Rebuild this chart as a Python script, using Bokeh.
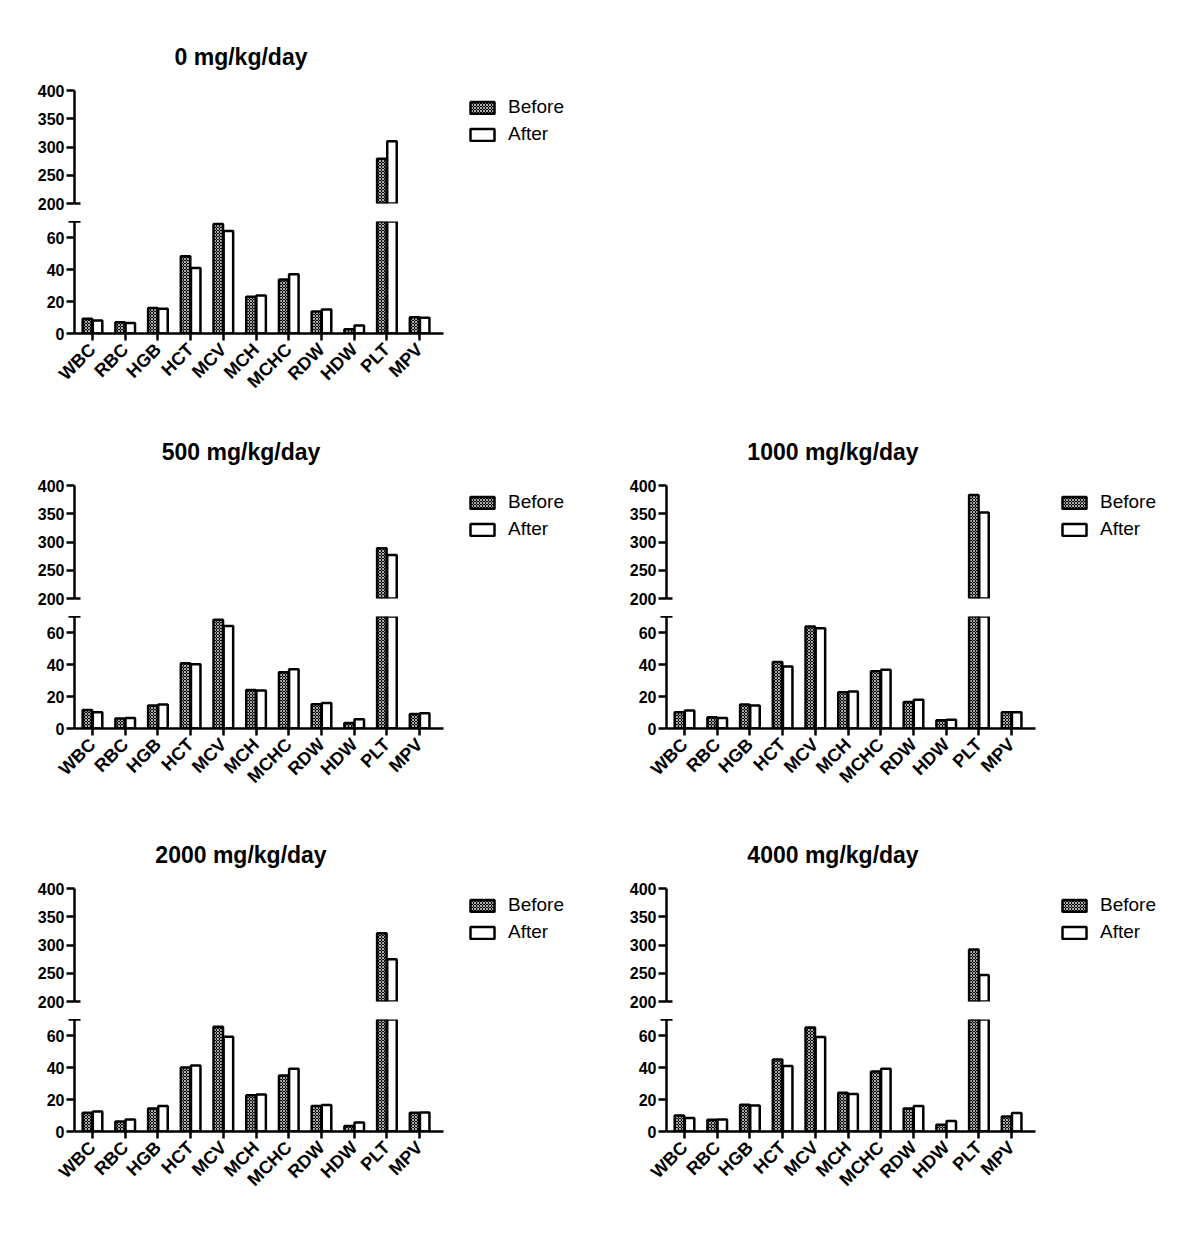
import math
from bokeh.plotting import figure
from bokeh.models import Range1d, FixedTicker, Legend
from bokeh.layouts import column, row
from bokeh.embed import file_html
from bokeh.resources import INLINE

categories = ["WBC", "RBC", "HGB", "HCT", "MCV", "MCH", "MCHC", "RDW", "HDW", "PLT", "MPV"]
doses = ["0 mg/kg/day", "500 mg/kg/day", "1000 mg/kg/day", "2000 mg/kg/day", "4000 mg/kg/day"]

before_0 = [9.2, 7.0, 16.0, 48.3, 68.5, 23.0, 33.7, 13.7, 2.7, 279, 10.2]
after_0 = [8.2, 6.5, 15.5, 41.0, 64.0, 23.8, 37.0, 15.0, 5.0, 310, 9.8]
before_500 = [11.5, 6.2, 14.4, 40.8, 68.0, 24.0, 35.2, 15.2, 3.5, 289, 9.0]
after_500 = [10.2, 6.5, 15.0, 40.2, 64.0, 23.7, 37.0, 15.9, 5.8, 277, 9.6]
before_1000 = [10.2, 7.0, 15.0, 41.5, 63.7, 22.7, 35.8, 16.5, 5.2, 383, 10.2]
after_1000 = [11.2, 6.5, 14.4, 38.8, 62.7, 23.1, 36.7, 18.0, 5.4, 352, 10.2]
before_2000 = [11.7, 6.2, 14.4, 40.0, 65.4, 22.7, 35.0, 15.9, 3.5, 321, 11.7]
after_2000 = [12.5, 7.5, 16.0, 41.2, 59.2, 23.1, 39.2, 16.5, 5.6, 275, 11.9]
before_4000 = [10.0, 7.3, 16.7, 45.0, 65.0, 24.2, 37.5, 14.4, 4.2, 292, 9.4]
after_4000 = [8.5, 7.5, 16.2, 41.0, 59.0, 23.5, 39.2, 15.9, 6.5, 247, 11.5]

upper_ticks = [200, 250, 300, 350, 400]
lower_ticks = [0, 20, 40, 60]

FONT = "Liberation Sans"
FRAME_W = 369
RIGHT = 157
UP_H = 113
LOW_H = 112
GAP = 18
LOW_BOTTOM = 72
TITLE_PX = 23
X_START, X_END = -0.55, 10.73

BAR_W = 0.29
OFF = 0.155

# approximate Liberation Sans Bold advance widths (em) for centering the titles
_W = {" ": 0.278, "/": 0.278, "m": 0.889, "g": 0.611, "k": 0.556, "d": 0.611,
      "a": 0.556, "y": 0.556}


def text_w(s, px):
    return sum(_W.get(c, 0.556) for c in s) * px


def style_axis(ax):
    ax.axis_line_width = 2.5
    ax.axis_line_color = "black"
    ax.major_tick_line_width = 2.5
    ax.major_tick_line_color = "black"
    ax.minor_tick_line_width = 2.5
    ax.minor_tick_line_color = "black"
    ax.major_tick_in = 0
    ax.major_tick_out = 8
    ax.minor_tick_in = 6
    ax.minor_tick_out = 6
    ax.major_label_text_font = FONT
    ax.major_label_text_font_style = "bold"
    ax.major_label_text_font_size = "16px"
    ax.major_label_text_color = "black"
    ax.major_label_standoff = 2


def panel(title, before, after, top_border, left):
    up_fw = FRAME_W + RIGHT
    up_xr = Range1d(X_START, X_START + (X_END - X_START) * up_fw / FRAME_W)
    up = figure(frame_width=up_fw, frame_height=UP_H, x_range=up_xr,
                y_range=Range1d(200, 400), output_backend="svg",
                toolbar_location=None, x_axis_location=None,
                min_border_left=left, min_border_right=0,
                min_border_top=top_border, min_border_bottom=GAP,
                title=title)
    low = figure(frame_width=FRAME_W, frame_height=LOW_H, x_range=Range1d(X_START, X_END),
                 y_range=Range1d(0, 70), output_backend="svg",
                 toolbar_location=None,
                 min_border_left=left, min_border_right=RIGHT,
                 min_border_top=0, min_border_bottom=LOW_BOTTOM)
    for p in (up, low):
        p.outline_line_color = None
        p.xgrid.visible = False
        p.ygrid.visible = False

    graph_center = -36 + (FRAME_W + 36) / 2.0
    up.title.align = "left"
    up.title.offset = graph_center - text_w(title, TITLE_PX) / 2.0
    up.title.text_font = FONT
    up.title.text_font_style = "bold"
    up.title.text_font_size = f"{TITLE_PX}px"
    up.title.text_color = "black"
    up.title.standoff = 41

    style_axis(up.yaxis[0])
    up.yaxis[0].ticker = FixedTicker(ticks=upper_ticks, minor_ticks=[upper_ticks[0]])
    up.yaxis[0].minor_tick_out = 0
    style_axis(low.yaxis[0])
    low.yaxis[0].ticker = FixedTicker(ticks=lower_ticks, minor_ticks=[low.y_range.end])

    xa = low.xaxis[0]
    style_axis(xa)
    xa.ticker = FixedTicker(ticks=list(range(len(categories))), minor_ticks=[])
    xa.major_label_overrides = {i: c for i, c in enumerate(categories)}
    xa.major_label_orientation = math.pi / 4
    xa.major_label_text_font_size = "18px"
    xa.major_tick_out = 7
    xa.major_label_standoff = 6

    idx = list(range(len(categories)))
    lo = up.y_range.start
    b_up = [v if v > lo else float("nan") for v in before]
    a_up = [v if v > lo else float("nan") for v in after]
    rb = up.vbar(x=[i - OFF for i in idx], top=b_up, bottom=0, width=BAR_W,
                 fill_color="black", line_color="black", line_width=2.5,
                 hatch_pattern="diagonal_cross", hatch_color="white",
                 hatch_scale=3, hatch_weight=0.8, hatch_alpha=0.85)
    ra = up.vbar(x=[i + OFF for i in idx], top=a_up, bottom=0, width=BAR_W,
                 fill_color="white", line_color="black", line_width=2.5)
    low.vbar(x=[i - OFF for i in idx], top=before, bottom=0, width=BAR_W,
             fill_color="black", line_color="black", line_width=2.5,
             hatch_pattern="diagonal_cross", hatch_color="white",
             hatch_scale=3, hatch_weight=0.8, hatch_alpha=0.85)
    low.vbar(x=[i + OFF for i in idx], top=after, bottom=0, width=BAR_W,
             fill_color="white", line_color="black", line_width=2.5)

    leg = Legend(items=[("Before", [rb]), ("After", [ra])], location=(393, 58),
                 margin=0, padding=0, spacing=5, glyph_width=30, glyph_height=15,
                 label_standoff=11, label_text_font=FONT, label_text_font_size="19px",
                 label_text_color="black", label_height=20,
                 border_line_color=None, background_fill_alpha=0)
    up.add_layout(leg)
    return column(up, low, spacing=0)


p1 = panel(doses[0], before_0, after_0, 90, 74)
p2 = panel(doses[1], before_500, after_500, 80, 74)
p3 = panel(doses[2], before_1000, after_1000, 80, 66)
p4 = panel(doses[3], before_2000, after_2000, 88, 74)
p5 = panel(doses[4], before_4000, after_4000, 88, 66)

layout = column(row(p1, spacing=0), row(p2, p3, spacing=0), row(p4, p5, spacing=0), spacing=0)

open("out.html", "w").write(file_html(layout, INLINE))
